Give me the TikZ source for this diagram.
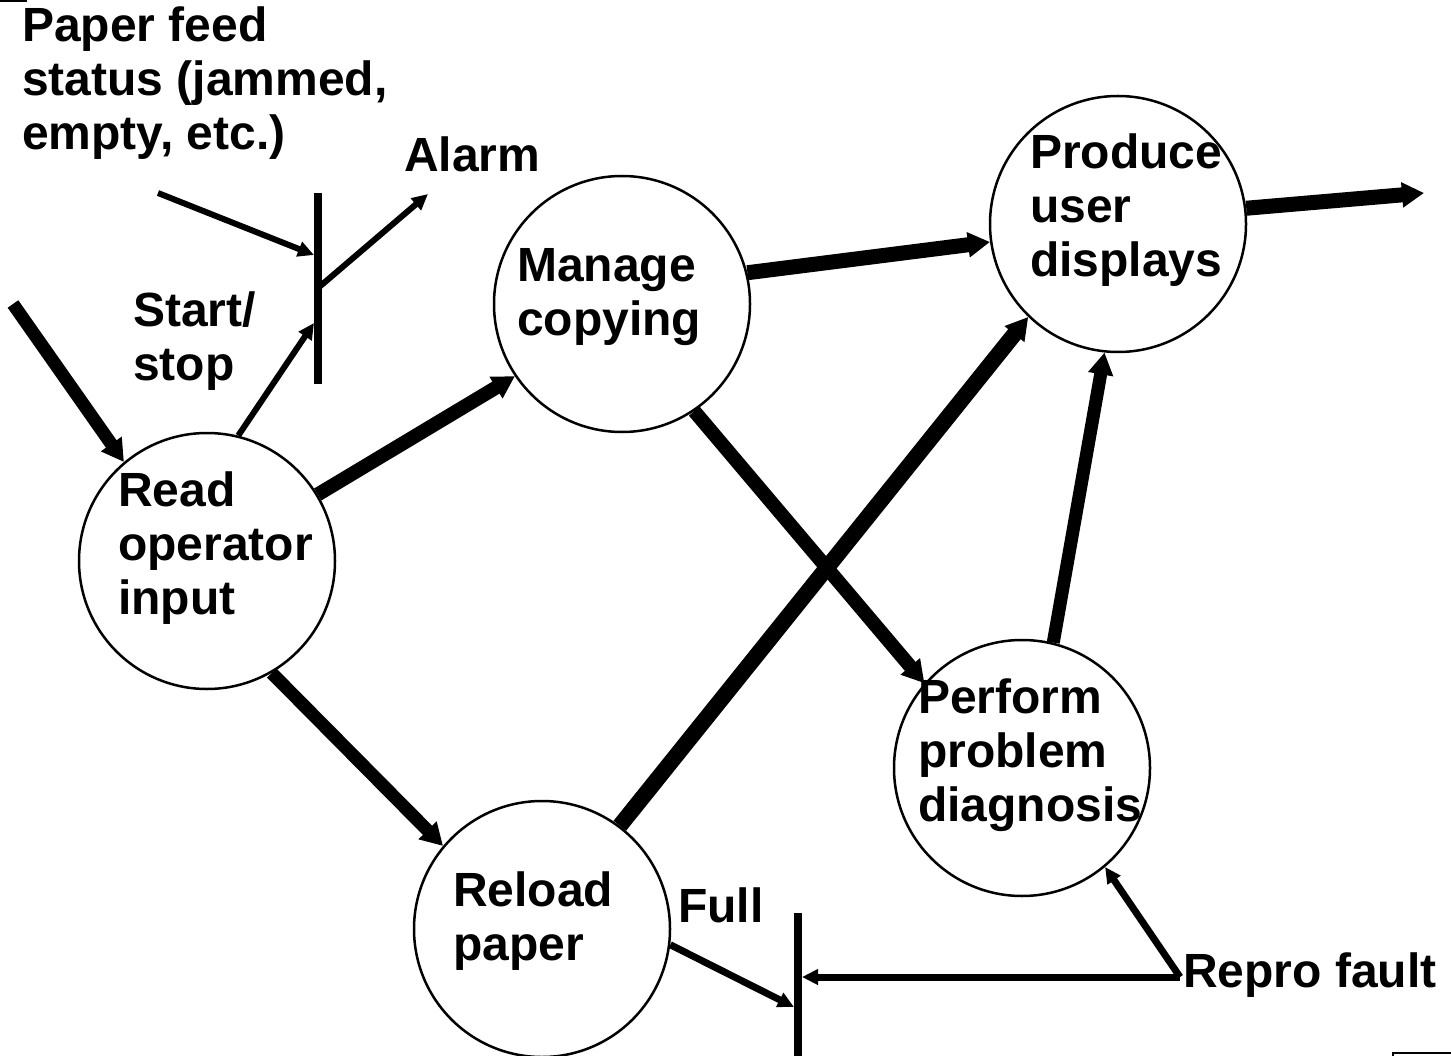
\documentclass[tikz,border=0pt]{standalone}
\usepackage{fontspec}
\setmainfont{Liberation Sans}
\usetikzlibrary{arrows.meta}
\begin{document}
\begin{tikzpicture}[x=1pt,y=-1pt,
  proc/.style={draw, circle, line width=2.5pt, minimum size=256pt, inner sep=0pt},
  lbl/.style={anchor=base west, inner sep=0pt, align=left, font=\fontsize{48}{54}\selectfont\bfseries},
  bigflow/.style={line width=14pt, -{Triangle[length=22pt,width=24pt]}},
  smallflow/.style={line width=6pt, -{Triangle[length=16pt,width=15pt]}},
  barline/.style={line width=8pt}
]
\useasboundingbox (0,0) rectangle (1451,1056);
% corner marks
\draw[line width=2pt] (0,1) -- (27,1);
\draw[line width=2pt] (1451,1052.5) -- (1393,1052.5) -- (1393,1056);

% processes
\node[proc] (read) at (207,561) {};
\node[proc] (manage) at (622,304) {};
\node[proc] (produce) at (1118,224) {};
\node[proc] (perform) at (1022,768) {};
\node[proc] (reload) at (542,929) {};

% texts (anchor = baseline of last line)
\node[lbl] (readT) at (118,614) {Read\\operator\\input};
\node[lbl] (manageT) at (517,336) {Manage\\copying};
\node[lbl] (produceT) at (1030,277) {Produce\\user\\displays};
\node[lbl] (performT) at (918,821) {Perform\\problem\\diagnosis};
\node[lbl] (reloadT) at (453,960) {Reload\\paper};
\node[lbl] (paperT) at (22,150) {Paper feed\\status (jammed,\\empty, etc.)};
\node[lbl] (alarmT) at (404,172) {Alarm};
\node[lbl] (startT) at (133,381) {Start/\\stop};
\node[lbl] (fullT) at (678,922) {Full};
\node[lbl] (reproT) at (1183,987) {Repro fault};

% bars
\coordinate (b1t) at (318,193); \coordinate (b1b) at (318,384);
\coordinate (b2t) at (798,913); \coordinate (b2b) at (798,1060);
\draw[barline] (b1t) -- (b1b);
\draw[barline] (b2t) -- (b2b);

% free ends
\coordinate (feedS) at (158,193);
\coordinate (b1in) at (314,255);
\coordinate (b1out) at (318,288);
\coordinate (alarmE) at (428,194);
\coordinate (b1ss) at (314,323);
\coordinate (inS) at (13,304);
\coordinate (outE) at (1424,193);
\coordinate (b2full) at (794,1007);
\coordinate (b2repro) at (802,977);
\coordinate (rj) at (1180,977);

% thin flows
\draw[smallflow] (feedS) -- (b1in);
\draw[smallflow] (b1out) -- (alarmE);
\draw[smallflow] (read.76) -- (b1ss);
\draw[smallflow, line width=7pt] (reload.-7) -- (b2full);
\draw[smallflow, line width=7pt] (rj) -- (b2repro);
\draw[smallflow, line width=7pt] (rj) -- (perform.310);

% thick flows
\draw[bigflow, line width=13pt] (inS) -- (read.130);
\draw[bigflow] (read.31) -- (manage.214);
\draw[bigflow, line width=15pt] (manage.14) -- (produce.188);
\draw[bigflow] (manage.304) -- (perform.139);
\draw[bigflow, line width=16pt] (reload.53) -- (produce.226);
\draw[bigflow, line width=13pt] (perform.76) -- (produce.264);
\draw[bigflow, line width=13pt] (read.300) -- (reload.140);
\draw[bigflow, line width=15pt] (produce.7) -- (outE);
\end{tikzpicture}
\end{document}
